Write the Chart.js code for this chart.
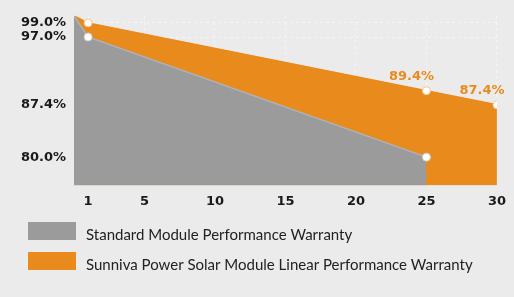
<!DOCTYPE html>
<html>
<head>
<meta charset="utf-8">
<script src="https://cdn.jsdelivr.net/npm/chart.js@4/dist/chart.umd.min.js"></script>
<style>
  html, body { margin: 0; padding: 0; background: #ebebeb; }
  #wrap { width: 514px; height: 297px; }
</style>
</head>
<body>
<div id="wrap"><canvas id="c" width="514" height="297"></canvas></div>
<script>
// years on the x axis and values
const years = [0, 1, 25, 30];
const standardVals = [100, 97.0, 80.0, null];
const sunnivaVals = [100, 99.0, 89.4, 87.4];
const xTicks = [1, 5, 10, 15, 20, 25, 30];
const yTicks = [80.0, 87.4, 97.0, 99.0];
const labelled = [25, 30]; // sunniva points that get a % label

const ORANGE = '#e98a1d';
const GREY = '#9b9b9c';
const FONT = 'DejaVu Sans';

function pts(vals) {
  return years.map((x, i) => ({ x: x, y: vals[i] }));
}

// draw legend boxes + the orange value labels
const extras = {
  id: 'extras',
  afterDraw(chart) {
    const ctx = chart.ctx;
    ctx.save();
    // value labels
    const meta = chart.getDatasetMeta(1);
    ctx.font = 'bold 13px ' + FONT;
    ctx.fillStyle = ORANGE;
    ctx.textAlign = 'center';
    ctx.textBaseline = 'bottom';
    meta.data.forEach((p, i) => {
      if (labelled.indexOf(years[i]) == -1) return;
      ctx.fillText(sunnivaVals[i].toFixed(1) + '%', p.x - 15, p.y - 8);
    });
    // legend
    ctx.textAlign = 'left';
    ctx.textBaseline = 'middle';
    ctx.font = '15px Lato';
    chart.data.datasets.forEach((ds, i) => {
      const y = 222 + i * 30;
      ctx.fillStyle = ds.backgroundColor;
      ctx.fillRect(28, y, 48, 18);
      ctx.fillStyle = '#222';
      ctx.fillText(ds.label, 86, y + 13);
    });
    ctx.restore();
  }
};

new Chart(document.getElementById('c'), {
  type: 'line',
  data: {
    datasets: [
      {
        label: 'Standard Module Performance Warranty',
        data: pts(standardVals),
        borderColor: '#a9b4bf',
        borderWidth: 1.5,
        backgroundColor: GREY,
        fill: 'origin',
        order: 1,
        pointRadius: (c) => c.dataIndex == 0 ? 0 : 4,
        pointBackgroundColor: '#fff',
        pointBorderColor: '#cfcfcf',
        pointBorderWidth: 1
      },
      {
        label: 'Sunniva Power Solar Module Linear Performance Warranty',
        data: pts(sunnivaVals),
        borderColor: ORANGE,
        borderWidth: 1.5,
        backgroundColor: ORANGE,
        fill: 'origin',
        order: 2,
        pointRadius: (c) => c.dataIndex == 0 ? 0 : 4,
        pointBackgroundColor: '#fff',
        pointBorderColor: '#f3c58c',
        pointBorderWidth: 1
      }
    ]
  },
  options: {
    responsive: false,
    animation: false,
    layout: { padding: { top: 15, right: 14, left: 0, bottom: 80 } },
    plugins: {
      legend: { display: false },
      tooltip: { enabled: false }
    },
    scales: {
      x: {
        type: 'linear',
        min: 0,
        max: 30,
        afterBuildTicks: (axis) => { axis.ticks = xTicks.map(v => ({ value: v })); },
        grid: { color: 'rgba(255,255,255,0.45)', drawTicks: false },
        border: { display: false, dash: [3, 3] },
        ticks: {
          color: '#1a1a1a',
          font: { family: FONT, weight: 'bold', size: 13 },
          padding: 8,
          maxRotation: 0
        }
      },
      y: {
        min: 76,
        max: 100,
        afterBuildTicks: (axis) => { axis.ticks = yTicks.map(v => ({ value: v })); },
        afterFit: (axis) => { axis.width = 74; },
        grid: { color: 'rgba(255,255,255,0.45)', drawTicks: false },
        border: { display: false, dash: [3, 3] },
        ticks: {
          color: '#1a1a1a',
          font: { family: FONT, weight: 'bold', size: 13 },
          padding: 8,
          callback: (v) => v.toFixed(1) + '%'
        }
      }
    }
  },
  plugins: [extras]
});
</script>
</body>
</html>
